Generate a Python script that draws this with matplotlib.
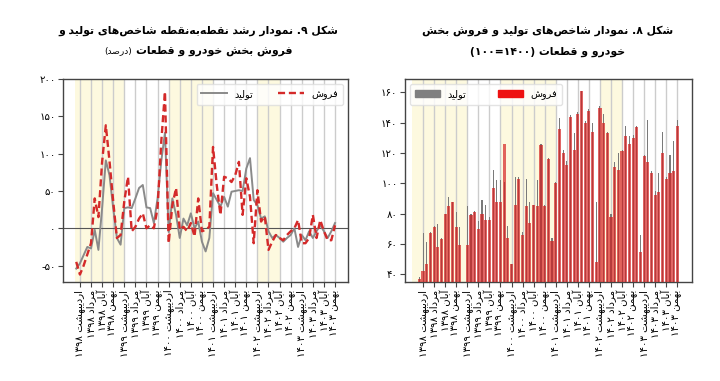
import re
import matplotlib
matplotlib.use("Agg")
import matplotlib.pyplot as plt
from matplotlib.patches import Patch
import numpy as np

# ---------------- data ----------------
month_labels = [
    "اردیبهشت ۱۳۹۸", "مرداد ۱۳۹۸", "آبان ۱۳۹۸", "بهمن ۱۳۹۸",
    "اردیبهشت ۱۳۹۹", "مرداد ۱۳۹۹", "آبان ۱۳۹۹", "بهمن ۱۳۹۹",
    "اردیبهشت ۱۴۰۰", "مرداد ۱۴۰۰", "آبان ۱۴۰۰", "بهمن ۱۴۰۰",
    "اردیبهشت ۱۴۰۱", "مرداد ۱۴۰۱", "آبان ۱۴۰۱", "بهمن ۱۴۰۱",
    "اردیبهشت ۱۴۰۲", "مرداد ۱۴۰۲", "آبان ۱۴۰۲", "بهمن ۱۴۰۲",
    "اردیبهشت ۱۴۰۳", "مرداد ۱۴۰۳", "آبان ۱۴۰۳", "بهمن ۱۴۰۳",
]

# Fig 9: point-to-point growth (%)
growth_production = [
    -54, -47, -36, -25, -27, -2, -29, 27, 91, 71,
    27, -13, -22, 27, 28, 27, 40, 54, 58, 28,
    27, 7, 40, 90, 128, -5, 40, 18, -13, 13,
    4, 20, 0, 9, -18, -31, -13, 47, 38, 29,
    42, 29, 49, 50, 51, 50, 80, 94, 38, 31,
    13, 16, -4, -13, -9, -13, -18, -13, -9, 0,
    -25, -9, -16, -4, -13, -4, 4, -4, -13, -4,
    7,
]
growth_sales = [
    -45, -62, -50, -35, -20, 40, 15, 89, 138, 90,
    36, -13, -9, 36, 69, -4, 2, 13, 20, 0,
    4, 0, 27, 116, 183, -20, 31, 54, -2, 2,
    -4, 7, -11, 40, -4, -2, 2, 109, 58, 18,
    69, 67, 62, 71, 89, 18, 67, 42, -20, 51,
    9, 16, -29, -18, -9, -13, -16, -9, -4, 0,
    11, -20, -20, -13, 18, -13, 11, -4, -16, -16,
    4,
]

# Fig 8: index (1400 = 100)
index_production = [
    38, 67, 61, 68, 72, 73, 64, 80, 91, 88,
    81, 71, 32, 85, 80, 82, 75, 89, 86, 78,
    109, 102, 102, 101, 72, 47, 104, 104, 68, 103,
    88, 86, 102, 126, 86, 117, 64, 101, 143, 122,
    115, 145, 133, 147, 161, 141, 149, 140, 88, 151,
    146, 134, 80, 114, 120, 122, 138, 131, 132, 138,
    66, 119, 142, 108, 95, 107, 134, 104, 119, 128,
    142,
]
index_sales = [
    37, 42, 47, 67, 71, 58, 63, 80, 85, 88,
    71, 59, 30, 59, 79, 81, 70, 80, 76, 76,
    97, 88, 88, 126, 64, 47, 86, 103, 66, 85,
    74, 86, 85, 125, 85, 116, 62, 100, 136, 120,
    112, 144, 122, 146, 161, 140, 148, 134, 48, 150,
    140, 133, 78, 111, 109, 121, 131, 126, 130, 137,
    55, 118, 114, 107, 92, 94, 120, 103, 107, 108,
    138,
]

# shaded periods (month index ranges)
shade_left = [(-0.4, 13), (25, 37), (49, 55)]
shade_right = [(-2, 13.2), (22, 37), (49, 55)]

legend_names = ["تولید", "فروش"]
title9 = ["شکل ۹. نمودار رشد نقطه‌به‌نقطه شاخص‌های تولید و", "فروش بخش خودرو و قطعات", "(درصد)"]
title8 = ["شکل ۸. نمودار شاخص‌های تولید و فروش بخش", "خودرو و قطعات (۱۴۰۰=۱۰۰)"]

# ---------------- Persian shaping helpers ----------------
FORMS = {
    'ا': ('\uFE8D', '\uFE8E'), 'آ': ('\uFE81', '\uFE82'),
    'د': ('\uFEA9', '\uFEAA'), 'ذ': ('\uFEAB', '\uFEAC'),
    'ر': ('\uFEAD', '\uFEAE'), 'ز': ('\uFEAF', '\uFEB0'),
    'ژ': ('\uFB8A', '\uFB8B'), 'و': ('\uFEED', '\uFEEE'),
    'ب': ('\uFE8F', '\uFE90', '\uFE91', '\uFE92'),
    'پ': ('\uFB56', '\uFB57', '\uFB58', '\uFB59'),
    'ت': ('\uFE95', '\uFE96', '\uFE97', '\uFE98'),
    'ث': ('\uFE99', '\uFE9A', '\uFE9B', '\uFE9C'),
    'ج': ('\uFE9D', '\uFE9E', '\uFE9F', '\uFEA0'),
    'چ': ('\uFB7A', '\uFB7B', '\uFB7C', '\uFB7D'),
    'ح': ('\uFEA1', '\uFEA2', '\uFEA3', '\uFEA4'),
    'خ': ('\uFEA5', '\uFEA6', '\uFEA7', '\uFEA8'),
    'س': ('\uFEB1', '\uFEB2', '\uFEB3', '\uFEB4'),
    'ش': ('\uFEB5', '\uFEB6', '\uFEB7', '\uFEB8'),
    'ص': ('\uFEB9', '\uFEBA', '\uFEBB', '\uFEBC'),
    'ض': ('\uFEBD', '\uFEBE', '\uFEBF', '\uFEC0'),
    'ط': ('\uFEC1', '\uFEC2', '\uFEC3', '\uFEC4'),
    'ظ': ('\uFEC5', '\uFEC6', '\uFEC7', '\uFEC8'),
    'ع': ('\uFEC9', '\uFECA', '\uFECB', '\uFECC'),
    'غ': ('\uFECD', '\uFECE', '\uFECF', '\uFED0'),
    'ف': ('\uFED1', '\uFED2', '\uFED3', '\uFED4'),
    'ق': ('\uFED5', '\uFED6', '\uFED7', '\uFED8'),
    'ک': ('\uFB8E', '\uFB8F', '\uFB90', '\uFB91'),
    'گ': ('\uFB92', '\uFB93', '\uFB94', '\uFB95'),
    'ل': ('\uFEDD', '\uFEDE', '\uFEDF', '\uFEE0'),
    'م': ('\uFEE1', '\uFEE2', '\uFEE3', '\uFEE4'),
    'ن': ('\uFEE5', '\uFEE6', '\uFEE7', '\uFEE8'),
    'ه': ('\uFEE9', '\uFEEA', '\uFEEB', '\uFEEC'),
    'ی': ('\uFBFC', '\uFBFD', '\uFBFE', '\uFBFF'),
}
DIGITS = "0123456789۰۱۲۳۴۵۶۷۸۹"
MIRROR = str.maketrans("()", ")(")


def shape(s):
    out = []
    for i, c in enumerate(s):
        if c not in FORMS:
            out.append(c)
            continue
        prev = s[i - 1] if i > 0 else None
        nxt = s[i + 1] if i + 1 < len(s) else None
        jp = prev in FORMS and len(FORMS[prev]) == 4
        jn = nxt in FORMS and len(FORMS[c]) == 4
        f = FORMS[c]
        if jp and jn:
            out.append(f[3])
        elif jp:
            out.append(f[1])
        elif jn:
            out.append(f[2])
        else:
            out.append(f[0])
    return ''.join(ch for ch in out if ch != '\u200c')


def fa(s):
    shaped = shape(s)
    runs = re.findall(r'[0-9۰-۹]+|[^0-9۰-۹]+', shaped)
    res = []
    for r in reversed(runs):
        if r[0] in DIGITS:
            res.append(r)
        else:
            res.append(r[::-1].translate(MIRROR))
    return ''.join(res)


def fa_num(v):
    s = str(int(abs(v))).translate(str.maketrans("0123456789", "۰۱۲۳۴۵۶۷۸۹"))
    return ('-' + s) if v < 0 else s


# ---------------- figure ----------------
plt.rcParams['font.family'] = ['DejaVu Sans']
fig = plt.figure(figsize=(7.2, 3.81), dpi=100)

YELLOW = '#fdf9df'
GRID = '#cccccc'
SPINE = '#444444'
n = len(growth_sales)
x = np.arange(n)
tick_pos = np.arange(1, n, 3)

# ----- left: Fig 9 -----
axL = fig.add_axes([0.0879, 0.2598, 0.3954, 0.5328])
for a, b in shade_left:
    axL.axvspan(a, b, color=YELLOW, lw=0, zorder=0)
axL.plot(x, growth_production, color='#8a8a8a', lw=1.4, label=fa(legend_names[0]), zorder=3)
axL.plot(x, growth_sales, color='#d42a2a', lw=1.7, ls=(0, (3, 1.6)), label=fa(legend_names[1]), zorder=4)
axL.axhline(0, color='#555555', lw=0.8, zorder=2)
axL.set_xlim(-3.5, 73.5)
axL.set_ylim(-72, 200)
yt_left = [-50, 0, 50, 100, 150, 200]
axL.set_yticks(yt_left)
axL.set_yticklabels([fa_num(v) for v in yt_left])
axL.set_xticks(tick_pos)
axL.set_xticklabels([fa(s) for s in month_labels], rotation=90)
axL.grid(axis='x', color=GRID, lw=1.0, zorder=1)
axL.set_axisbelow(True)
leg = axL.legend(loc='upper right', ncol=2, fontsize=7, frameon=True, handlelength=2.6,
                 columnspacing=2.6, borderpad=0.5, fancybox=True)
leg.get_frame().set_edgecolor('#dddddd')

# ----- right: Fig 8 -----
axR = fig.add_axes([0.5625, 0.259, 0.3982, 0.5336])
for a, b in shade_right:
    axR.axvspan(a, b, color=YELLOW, lw=0, zorder=0)
axR.bar(x, index_production, width=0.3, color='#7a7a7a', zorder=2)
axR.bar(x, index_sales, width=0.85, color='#d41c1c', alpha=0.68, lw=0, zorder=3)
axR.set_xlim(-3.9, 73.9)
axR.set_ylim(34.7, 168.8)
yt_right = [40, 60, 80, 100, 120, 140, 160]
axR.set_yticks(yt_right)
axR.set_yticklabels([fa_num(v) for v in yt_right])
axR.set_xticks(tick_pos)
axR.set_xticklabels([fa(s) for s in month_labels], rotation=90)
axR.grid(axis='x', color=GRID, lw=1.0, zorder=1)
axR.set_axisbelow(True)
hh = [Patch(color='#808080'), Patch(color='#ee1111')]
leg2 = axR.legend(hh, [fa(s) for s in legend_names], loc='upper left', ncol=2, fontsize=7,
                  frameon=True, handlelength=2.6, columnspacing=3.2, borderpad=0.5, fancybox=True)
leg2.get_frame().set_edgecolor('#dddddd')

for ax in (axL, axR):
    for sp in ax.spines.values():
        sp.set_color(SPINE)
        sp.set_linewidth(1.0)
    ax.tick_params(axis='both', labelsize=7.3, color=SPINE, length=3.5, width=0.8, pad=2)

# ----- titles -----
TFS = 7.8
fig.text(198 / 720, 1 - 31 / 381, fa(title9[0]), ha='center', va='center', fontsize=TFS, fontweight='bold')
t_main = fig.text(0, 1 - 51 / 381, fa(title9[1]), ha='left', va='center', fontsize=TFS, fontweight='bold')
t_sub = fig.text(0, 1 - 51 / 381, fa(title9[2]), ha='left', va='center', fontsize=6.5)
renderer = fig.canvas.get_renderer()
w_main = t_main.get_window_extent(renderer).width
w_sub = t_sub.get_window_extent(renderer).width
gap = 4
total = w_main + w_sub + gap
x0 = 198 - total / 2
t_sub.set_x(x0 / 720)
t_main.set_x((x0 + w_sub + gap) / 720)
fig.text(548 / 720, 1 - 31 / 381, fa(title8[0]), ha='center', va='center', fontsize=TFS, fontweight='bold')
fig.text(548 / 720, 1 - 52 / 381, fa(title8[1]), ha='center', va='center', fontsize=TFS, fontweight='bold')

fig.savefig('out.png', dpi=100)
